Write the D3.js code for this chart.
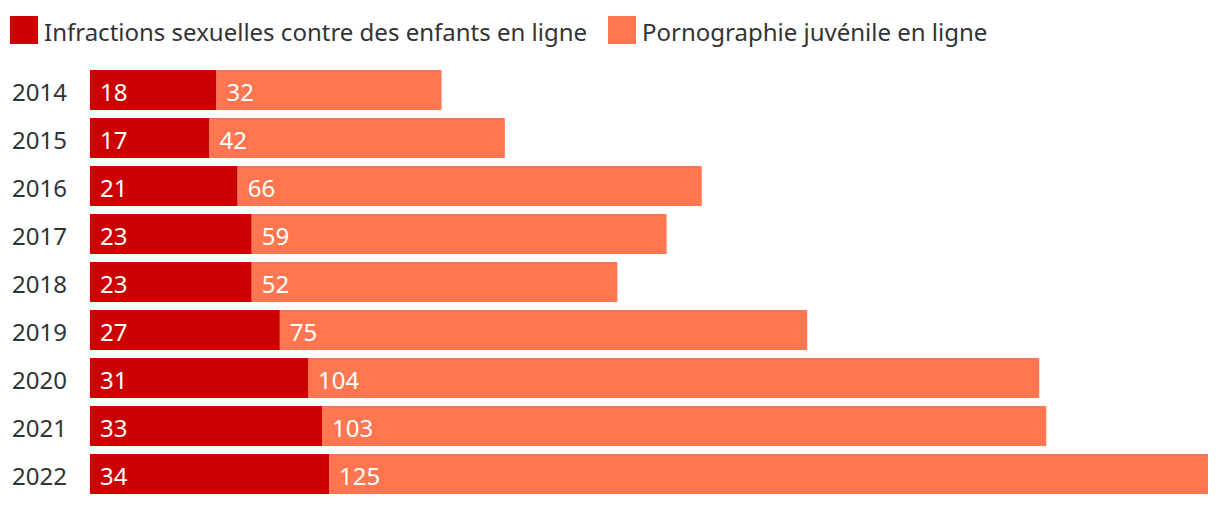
<!DOCTYPE html>
<html>
<head>
<meta charset="utf-8">
<script src="https://cdn.jsdelivr.net/npm/d3@7"></script>
<style>
  body { margin: 0; background: #fff; }
  svg { display: block; font-family: "Noto Sans", sans-serif; }
</style>
</head>
<body>
<svg></svg>
<script>
const years = ["2014", "2015", "2016", "2017", "2018", "2019", "2020", "2021", "2022"];
const seriesNames = ["Infractions sexuelles contre des enfants en ligne", "Pornographie juvénile en ligne"];
const sexOffences = [18, 17, 21, 23, 23, 27, 31, 33, 34];
const childPorn = [32, 42, 66, 59, 52, 75, 104, 103, 125];
const colors = ["#cc0000", "#ff7650"];

const width = 1220;
const height = 506;
const fontSize = 24;

const svg = d3.select("svg")
    .attr("width", width)
    .attr("height", height);

const rows = years.map((y, i) => ({year: y, a: sexOffences[i], b: childPorn[i]}));

const x = d3.scaleLinear()
    .domain([0, d3.max(rows, d => d.a + d.b)])
    .range([90, 1208]);

const y = d3.scaleBand()
    .domain(years)
    .range([66, 498])
    .paddingInner(8 / 48)
    .paddingOuter(4 / 48);

const mid = d => y(d.year) + y.bandwidth() / 2 + 1;

// legend
const legendX = [10, 608];
const legend = svg.append("g");
seriesNames.forEach((name, i) => {
    legend.append("rect")
        .attr("x", legendX[i])
        .attr("y", 16)
        .attr("width", 28)
        .attr("height", 28)
        .attr("fill", colors[i]);
    legend.append("text")
        .attr("x", legendX[i] + 34)
        .attr("y", 31)
        .attr("dominant-baseline", "central")
        .attr("font-size", fontSize)
        .attr("fill", "#333")
        .text(name);
});

// year labels
svg.append("g")
    .selectAll("text")
    .data(rows)
    .join("text")
    .attr("x", 12)
    .attr("y", mid)
    .attr("dominant-baseline", "central")
    .attr("font-size", fontSize)
    .attr("fill", "#333")
    .text(d => d.year);

const bars = svg.append("g");

bars.selectAll("rect.a")
    .data(rows)
    .join("rect")
    .attr("class", "a")
    .attr("x", x(0))
    .attr("y", d => y(d.year))
    .attr("width", d => x(d.a) - x(0))
    .attr("height", y.bandwidth())
    .attr("fill", colors[0]);

bars.selectAll("rect.b")
    .data(rows)
    .join("rect")
    .attr("class", "b")
    .attr("x", d => x(d.a))
    .attr("y", d => y(d.year))
    .attr("width", d => x(d.a + d.b) - x(d.a))
    .attr("height", y.bandwidth())
    .attr("fill", colors[1]);

bars.selectAll("text.a")
    .data(rows)
    .join("text")
    .attr("class", "a")
    .attr("x", x(0) + 10)
    .attr("y", mid)
    .attr("dominant-baseline", "central")
    .attr("font-size", fontSize)
    .attr("fill", "#fff")
    .text(d => d.a);

bars.selectAll("text.b")
    .data(rows)
    .join("text")
    .attr("class", "b")
    .attr("x", d => x(d.a) + 10)
    .attr("y", mid)
    .attr("dominant-baseline", "central")
    .attr("font-size", fontSize)
    .attr("fill", "#fff")
    .text(d => d.b);
</script>
</body>
</html>
